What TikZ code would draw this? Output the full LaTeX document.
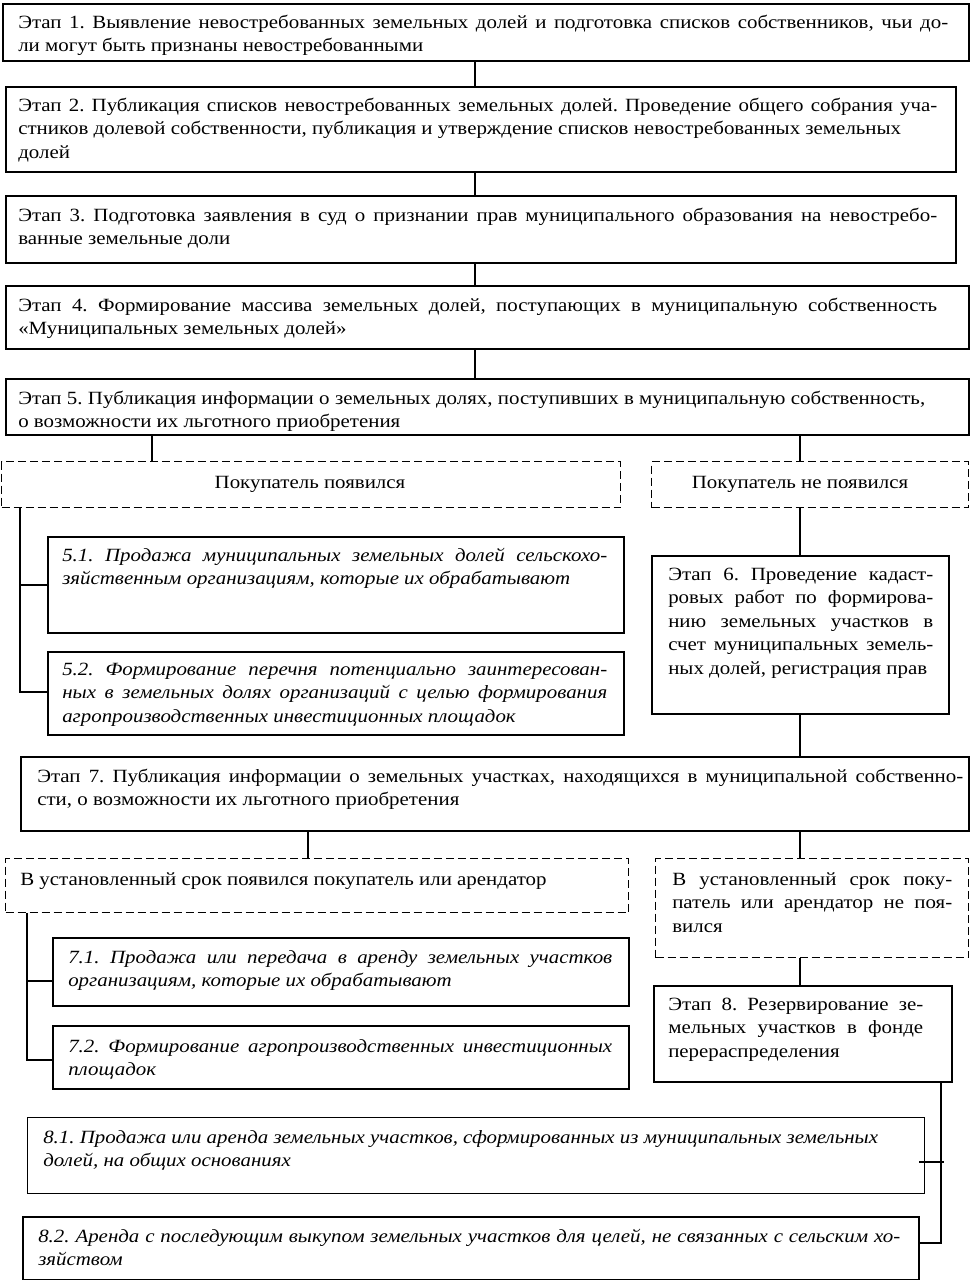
\documentclass[tikz,border=0pt]{standalone}
\usepackage{fontspec}
\setmainfont{Liberation Serif}[FakeStretch=1.12]
\frenchspacing
\newlength\tw
\newcommand\jl[1]{\makebox[\tw][s]{#1}}
\newcommand\mkbox[6]{\node[#1, minimum width={(#5-#3)*0.75pt}, minimum height={(#6-#4)*0.75pt}] (#2) at (#3,#4) {};}
\newcommand\mktxt[6]{\pgfmathsetlength{\tw}{(#5-#3)*0.75pt}\node[#1, text width=\tw] (#2) at (#3,#4-11.4) {\spaceskip=0pt\xspaceskip=0pt\strut #6};}
\tikzset{
  box/.style={draw, line width=1.3pt, anchor=north west, inner sep=0pt, rectangle},
  thinbox/.style={box, line width=0.8pt},
  dbox/.style={draw, line width=1pt, dash pattern=on 6pt off 3pt, anchor=north west, inner sep=0pt, rectangle},
  txt/.style={anchor=north west, inner sep=0pt, align=left, font=\fontsize{14}{17.6}\selectfont},
  itxt/.style={txt, font=\fontsize{14}{17.6}\selectfont\itshape},
  ctxt/.style={anchor=base, inner sep=0pt, font=\fontsize{14}{17.6}\selectfont},
  conn/.style={line width=1.1pt},
}
\begin{document}
\begin{tikzpicture}[x=0.75pt, y=-0.75pt]
\fill[white] (0,0) rectangle (971,1280);
\useasboundingbox (0,0) rectangle (971,1280);

% boxes
\mkbox{box}{b1}{2}{3}{968}{60}
\mkbox{box}{b2}{5}{86}{955}{171}
\mkbox{box}{b3}{5}{195}{955}{262}
\mkbox{box}{b4}{5}{285}{968}{348}
\mkbox{box}{b5}{5}{378}{968}{434}
\mkbox{dbox}{da1}{1}{461}{620}{507}
\mkbox{dbox}{da2}{651}{461}{968}{507}
\mkbox{box}{s51}{47}{536}{623}{632}
\mkbox{box}{s52}{47}{651}{623}{734}
\mkbox{box}{b6}{651}{555}{948}{713}
\mkbox{box}{b7}{20}{756}{968}{830}
\mkbox{dbox}{db1}{5}{858}{628}{912}
\mkbox{dbox}{db2}{655}{858}{968}{957}
\mkbox{box}{s71}{52}{937}{628}{1005}
\mkbox{box}{s72}{52}{1025}{628}{1088}
\mkbox{box}{b8}{653}{985}{951}{1081}
\mkbox{thinbox}{s81}{27}{1117}{924}{1193}
\mkbox{box}{s82}{22}{1216}{918}{1279}

% texts
\mktxt{txt}{t1}{18}{23}{948}{\jl{Этап 1. Выявление невостребованных земельных долей и подготовка списков собственников, чьи до-}\\ли могут быть признаны невостребованными}
\mktxt{txt}{t2}{18}{106}{937}{\jl{Этап 2. Публикация списков невостребованных земельных долей. Проведение общего собрания уча-}\\стников долевой собственности, публикация и утверждение списков невостребованных земельных\\долей}
\mktxt{txt}{t3}{18}{216}{937}{\jl{Этап 3. Подготовка заявления в суд о признании прав муниципального образования на невостребо-}\\ванные земельные доли}
\mktxt{txt}{t4}{18}{306}{937}{\jl{Этап 4. Формирование массива земельных долей, поступающих в муниципальную собственность}\\«Муниципальных земельных долей»}
\mktxt{txt}{t5}{18}{399}{925}{\jl{Этап 5. Публикация информации о земельных долях, поступивших в муниципальную собственность,}\\о возможности их льготного приобретения}
\node[ctxt] (ta1) at (310,488) {Покупатель появился};
\node[ctxt] (ta2) at (800,488) {Покупатель не появился};
\mktxt{itxt}{t51}{62}{556}{607}{\jl{5.1. Продажа муниципальных земельных долей сельскохо-}\\зяйственным организациям, которые их обрабатывают}
\mktxt{itxt}{t52}{62}{670}{607}{\jl{5.2. Формирование перечня потенциально заинтересован-}\\\jl{ных в земельных долях организаций с целью формирования}\\агропроизводственных инвестиционных площадок}
\mktxt{txt}{t6}{668}{575}{933}{\jl{Этап 6. Проведение кадаст-}\\\jl{ровых работ по формирова-}\\\jl{нию земельных участков в}\\\jl{счет муниципальных земель-}\\ных долей, регистрация прав}
\mktxt{txt}{t7}{37}{777}{963}{\jl{Этап 7. Публикация информации о земельных участках, находящихся в муниципальной собственно-}\\сти, о возможности их льготного приобретения}
\mktxt{txt}{td1}{20}{880}{620}{В установленный срок появился покупатель или арендатор}
\mktxt{txt}{td2}{672}{880}{952}{\jl{В установленный срок поку-}\\\jl{патель или арендатор не поя-}\\вился}
\mktxt{itxt}{t71}{68}{958}{612}{\jl{7.1. Продажа или передача в аренду земельных участков}\\организациям, которые их обрабатывают}
\mktxt{itxt}{t72}{68}{1047}{612}{\jl{7.2. Формирование агропроизводственных инвестиционных}\\площадок}
\mktxt{txt}{t8}{668}{1005}{923}{\jl{Этап 8. Резервирование зе-}\\\jl{мельных участков в фонде}\\перераспределения}
\mktxt{itxt}{t81}{43}{1138}{910}{8.1. Продажа или аренда земельных участков, сформированных из муниципальных земельных\\долей, на общих основаниях}
\mktxt{itxt}{t82}{38}{1237}{900}{\jl{8.2. Аренда с последующим выкупом земельных участков для целей, не связанных с сельским хо-}\\зяйством}

% connector guide coordinates
\coordinate (cm) at (475,0);
\coordinate (cl) at (152,0);
\coordinate (cr) at (800,0);
\coordinate (c7) at (308,0);
\coordinate (la) at (20,0);
\coordinate (lb) at (27,0);
\coordinate (v8) at (941,0);
\coordinate (y51) at (0,585);
\coordinate (y52) at (0,692);
\coordinate (y71) at (0,981);
\coordinate (y72) at (0,1060);
\coordinate (h81) at (0,1162);
\coordinate (h82) at (0,1243);

% connectors
\draw[conn] (b1.south -| cm) -- (b2.north -| cm);
\draw[conn] (b2.south -| cm) -- (b3.north -| cm);
\draw[conn] (b3.south -| cm) -- (b4.north -| cm);
\draw[conn] (b4.south -| cm) -- (b5.north -| cm);
\draw[conn] (b5.south -| cl) -- (da1.north -| cl);
\draw[conn] (b5.south -| cr) -- (da2.north -| cr);
\draw[conn] (da1.south -| la) -- (la |- y52) -- (s52.west |- y52);
\draw[conn] (la |- y51) -- (s51.west |- y51);
\draw[conn] (da2.south -| cr) -- (b6.north -| cr);
\draw[conn] (b6.south -| cr) -- (b7.north -| cr);
\draw[conn] (b7.south -| c7) -- (db1.north -| c7);
\draw[conn] (b7.south -| cr) -- (db2.north -| cr);
\draw[conn] (db1.south -| lb) -- (lb |- y72) -- (s72.west |- y72);
\draw[conn] (lb |- y71) -- (s71.west |- y71);
\draw[conn] (db2.south -| cr) -- (b8.north -| cr);
\draw[conn] (b8.south -| v8) -- (v8 |- h82) -- (s82.east |- h82);
\draw[conn] ([xshift=-4.5pt]s81.east |- h81) -- ([xshift=2.25pt]v8 |- h81);
\end{tikzpicture}
\end{document}
